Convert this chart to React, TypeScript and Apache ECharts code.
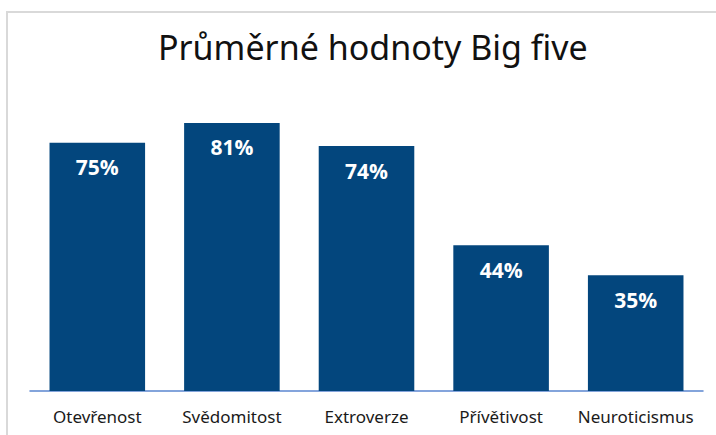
import React, { useEffect, useRef } from "react";
import * as echarts from "echarts";

const categories = ["Otevřenost", "Svědomitost", "Extroverze", "Přívětivost", "Neuroticismus"];
const values = [75, 81, 74, 44, 35];
const titleText = "Průměrné hodnoty Big five";

export default function App() {
  const ref = useRef<HTMLDivElement>(null);
  useEffect(() => {
    if (!ref.current) return;
    const chart = echarts.init(ref.current, null, { renderer: "svg" });
    chart.setOption({
      animation: false,
      backgroundColor: "#ffffff",
      title: {
        text: titleText,
        left: 153,
        top: 25,
        textStyle: {
          fontFamily: "Noto Sans",
          fontSize: 34,
          fontWeight: "normal",
          color: "#111111",
        },
      },
      graphic: [
        {
          type: "rect",
          shape: { x: 7, y: 12, width: 800, height: 500 },
          style: { fill: "none", stroke: "#d9d9d9", lineWidth: 2 },
          silent: true,
          z: -1,
        },
      ],
      grid: { left: 30, right: 13, top: 60, bottom: 44 },
      xAxis: {
        type: "category",
        data: categories,
        axisLine: { lineStyle: { color: "#5b86d0", width: 1.5 } },
        axisTick: { show: false },
        axisLabel: {
          interval: 0,
          margin: 17,
          fontFamily: "Noto Sans",
          fontSize: 17,
          color: "#1a1a1a",
        },
      },
      yAxis: {
        type: "value",
        min: 0,
        max: 100,
        show: false,
        splitLine: { show: false },
      },
      series: [
        {
          type: "bar",
          data: values,
          barCategoryGap: "29%",
          itemStyle: { color: "#03467d" },
          label: {
            show: true,
            position: "insideTop",
            distance: 14,
            formatter: "{c}%",
            fontFamily: "Open Sans",
            fontWeight: "bold",
            fontSize: 21,
            color: "#ffffff",
          },
        },
      ],
    });
    return () => chart.dispose();
  }, []);
  return (
    <div
      ref={ref}
      style={{ position: "fixed", left: 0, top: 0, width: 716, height: 435 }}
    />
  );
}
